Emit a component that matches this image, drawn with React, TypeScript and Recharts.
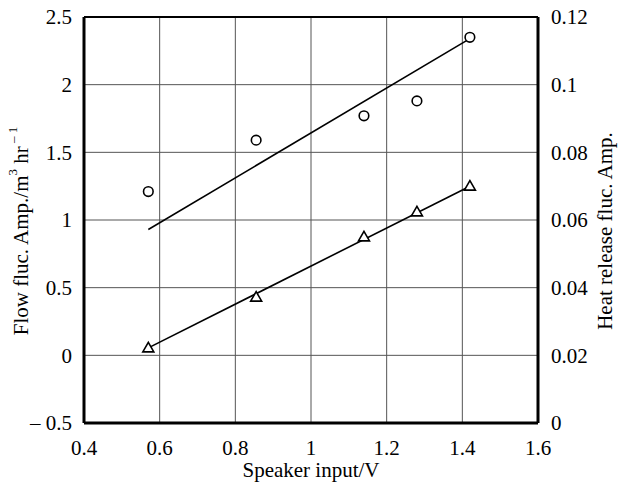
import React from 'react';
import { ComposedChart, Scatter, XAxis, YAxis, CartesianGrid, ReferenceLine } from 'recharts';

// Speaker input (V) for both measured series
const speakerInput = [0.57, 0.855, 1.14, 1.28, 1.42];
// Flow fluctuation amplitude (left axis, circles)
const flowAmp = [1.21, 1.59, 1.77, 1.88, 2.35];
// Heat release fluctuation amplitude (right axis, triangles)
const heatAmp = [0.0222, 0.0372, 0.055, 0.0624, 0.070];

// straight fit lines drawn through the data
const flowFitX = [0.57, 1.42];
const flowFitY = [0.93, 2.34];
const heatFitX = [0.57, 1.42];
const heatFitY = [0.0222, 0.070];

const xTicks = [0.4, 0.6, 0.8, 1, 1.2, 1.4, 1.6];
const leftTicks = [-0.5, 0, 0.5, 1, 1.5, 2, 2.5];
const rightTicks = [0, 0.02, 0.04, 0.06, 0.08, 0.1, 0.12];

const flowData = speakerInput.map((x, i) => ({ x, y: flowAmp[i] }));
const heatData = speakerInput.map((x, i) => ({ x, y: heatAmp[i] }));
const flowFit = flowFitX.map((x, i) => ({ x, y: flowFitY[i] }));
const heatFit = heatFitX.map((x, i) => ({ x, y: heatFitY[i] }));

const FONT = '"Liberation Serif", "Times New Roman", serif';
const FS = 21;
const tickStyle = { fill: '#000', fontSize: FS, fontFamily: FONT };

const Circle = (props: any) => (
    <circle cx={props.cx} cy={props.cy} r={4.8} fill="#fff" stroke="#000" strokeWidth={1.6} />
);

const Triangle = (props: any) => {
    const { cx, cy } = props;
    const pts = `${cx - 5.5},${cy + 4} ${cx + 5.5},${cy + 4} ${cx},${cy - 5.5}`;
    return <polygon points={pts} fill="#fff" stroke="#000" strokeWidth={1.6} />;
};

const Nothing = () => <g />;

const LeftLabel = (props: any) => {
    const vb = props.viewBox || { x: 0, y: 17, width: 84, height: 406 };
    const x = vb.x + 21;
    const y = vb.y + vb.height / 2 + 11;
    return (
        <text x={x} y={y} transform={`rotate(-90 ${x} ${y})`} textAnchor="middle" dominantBaseline="central"
            fontSize={FS} fontFamily={FONT} fill="#000">
            Flow fluc. Amp./m
            <tspan fontSize={13} dy={-9}>3</tspan>
            <tspan dy={9}> hr</tspan>
            <tspan fontSize={13} dy={-9}> – 1</tspan>
        </text>
    );
};

const RightLabel = (props: any) => {
    const vb = props.viewBox || { x: 538, y: 17, width: 85, height: 406 };
    const x = vb.x + 67;
    const y = vb.y + vb.height / 2 + 11;
    return (
        <text x={x} y={y} transform={`rotate(-90 ${x} ${y})`} textAnchor="middle" dominantBaseline="central"
            fontSize={FS} fontFamily={FONT} fill="#000">
            Heat release fluc. Amp.
        </text>
    );
};

const BottomLabel = (props: any) => {
    const vb = props.viewBox || { x: 84, y: 423, width: 454, height: 63 };
    return (
        <text x={vb.x + vb.width / 2} y={vb.y + 54} textAnchor="middle" fontSize={FS} fontFamily={FONT} fill="#000">
            Speaker input/V
        </text>
    );
};

const fmtLeft = (v: number) => (v < 0 ? `– ${Math.abs(v)}` : `${v}`);

export default function App() {
    return (
        <div style={{ position: 'absolute', left: 0, top: 0, background: '#fff' }}>
            <ComposedChart width={623} height={486} margin={{ top: 17, right: 0, left: 0, bottom: 0 }}>
                <CartesianGrid stroke="#555" strokeWidth={1} yAxisId="left" />
                <XAxis type="number" dataKey="x" domain={[0.4, 1.6]} ticks={xTicks} height={63}
                    axisLine={{ stroke: '#000', strokeWidth: 3 }} tickLine={false} tickSize={0} tickMargin={17}
                    tick={tickStyle} allowDataOverflow label={<BottomLabel />} />
                <YAxis yAxisId="left" dataKey="y" type="number" domain={[-0.5, 2.5]} ticks={leftTicks} width={84}
                    axisLine={{ stroke: '#000', strokeWidth: 3 }} tickLine={false} tickSize={0} tickMargin={12}
                    tick={tickStyle} tickFormatter={fmtLeft} allowDataOverflow label={<LeftLabel />} />
                <YAxis yAxisId="right" dataKey="y" orientation="right" type="number" domain={[0, 0.12]} ticks={rightTicks} width={85}
                    axisLine={{ stroke: '#000', strokeWidth: 3 }} tickLine={false} tickSize={0} tickMargin={13}
                    tick={tickStyle} allowDataOverflow label={<RightLabel />} />
                <ReferenceLine yAxisId="left" y={2.5} stroke="#000" strokeWidth={1.8} />
                <Scatter yAxisId="left" data={flowFit} dataKey="y" line={{ stroke: '#000', strokeWidth: 1.6 }} shape={<Nothing />} isAnimationActive={false} />
                <Scatter yAxisId="right" data={heatFit} dataKey="y" line={{ stroke: '#000', strokeWidth: 1.6 }} shape={<Nothing />} isAnimationActive={false} />
                <Scatter yAxisId="left" data={flowData} dataKey="y" shape={<Circle />} isAnimationActive={false} />
                <Scatter yAxisId="right" data={heatData} dataKey="y" shape={<Triangle />} isAnimationActive={false} />
            </ComposedChart>
        </div>
    );
}
